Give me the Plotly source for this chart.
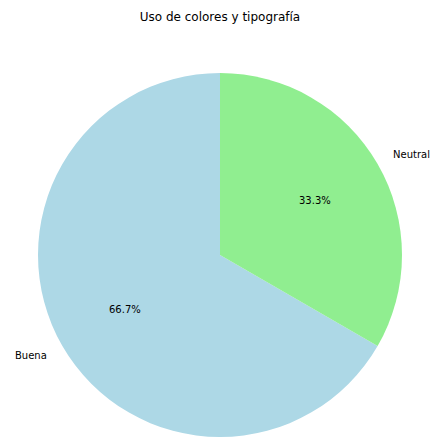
import math
import plotly.graph_objects as go

labels = ["Buena", "Neutral"]
values = [2, 1]
colors = ["#ADD8E6", "#90EE90"]
title = "Uso de colores y tipografía"

W, H = 431, 437
CX, CY, R = 220, 255, 182  # pixel layout of pie within figure

fig = go.Figure(go.Pie(
    labels=labels, values=values, sort=False, direction="clockwise",
    rotation=120, marker=dict(colors=colors, line=dict(width=0)),
    textinfo="none", hoverinfo="label+percent", showlegend=False,
    domain=dict(x=[(CX - R) / W, (CX + R) / W], y=[(H - CY - R) / H, (H - CY + R) / H]),
))

total = sum(values)
start = 90.0
font = dict(family="DejaVu Sans", size=10, color="#000000")
for lab, v in zip(labels, values):
    span = 360.0 * v / total
    mid = math.radians(start + span / 2)
    start += span
    c, s = math.cos(mid), math.sin(mid)
    fig.add_annotation(x=(CX + 1.1 * R * c) / W, y=(H - CY + 1.1 * R * s) / H,
                       xref="paper", yref="paper", text=lab, showarrow=False,
                       borderpad=0, borderwidth=0,
                       xanchor="left" if c > 0 else "right", yanchor="middle", font=font)
    fig.add_annotation(x=(CX + 0.6 * R * c) / W, y=(H - CY + 0.6 * R * s) / H,
                       xref="paper", yref="paper", text=f"{100 * v / total:.1f}%",
                       borderpad=0, borderwidth=0,
                       showarrow=False, xanchor="center", yanchor="middle", font=font)

fig.update_layout(
    width=W, height=H, margin=dict(l=0, r=0, t=0, b=0),
    paper_bgcolor="white", plot_bgcolor="white",
    title=dict(text=title, x=220 / W, xanchor="center", y=1 - 17 / H,
               yanchor="middle", yref="container",
               font=dict(family="DejaVu Sans", size=12, color="#000000")),
)
fig.write_html("out.html", config={"displayModeBar": False},
               post_script="document.body.style.margin='0';document.body.style.overflow='hidden';")
